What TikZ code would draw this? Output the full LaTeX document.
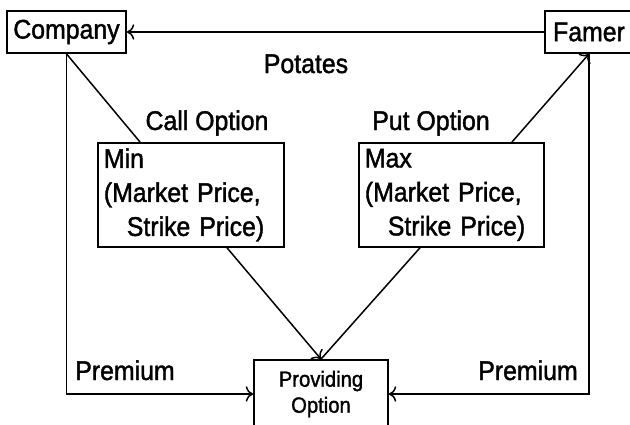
\documentclass[tikz,border=0pt]{standalone}
\usepackage{fontspec}
\setmainfont[FakeStretch=0.92,FakeBold=1.5]{Liberation Sans}
\usepackage{tikz}
\usetikzlibrary{arrows,arrows.meta}
\usetikzlibrary{positioning}

\begin{document}
\begin{tikzpicture}[x=1pt,y=-1pt,>={To[scale=1.5]},
		every node/.style={font=\fontsize{27}{34}\selectfont},
		box/.style={draw, line width=1.8pt, inner sep=0pt},
		conn/.style={line width=1.5pt},
		lab/.style={anchor=base}]
	
	\path[use as bounding box] (0,0) rectangle (630,424);
	\clip (0,0) rectangle (630,424);
	
	
	\node (company) at (66.5,32)[box, minimum width=119pt, minimum height=42pt] {Company};
	\node (famer) at (589,32)[box, minimum width=88pt, minimum height=42pt] {Famer};
	
	
	\node (minbox) at (97,142)[box, anchor=north west, minimum width=186pt, minimum height=104pt,
		inner xsep=6pt, text width=174pt, align=left] {Min\\(Market Price,\\\hspace*{0.85em}Strike Price)};
	\node (maxbox) at (358,142)[box, anchor=north west, minimum width=185pt, minimum height=104pt,
		inner xsep=6pt, text width=173pt, align=left] {Max\\(Market Price,\\\hspace*{0.85em}Strike Price)};
	
	
	\node (provide) at (321,394)[box, minimum width=134pt, minimum height=68pt, align=center,
		font=\fontsize{22}{26}\selectfont] {Providing\\Option};
	
	
	\node (potates) at (306,73)[lab] {Potates};
	\node (calllab) at (207,130)[lab] {Call Option};
	\node (putlab) at (431,130)[lab] {Put Option};
	\node (premleft) at (125,380)[lab] {Premium};
	\node (premright) at (528,380)[lab] {Premium};
	
	
	\draw[conn,->] (famer) -- (company);
	\draw[conn] (company.south) -- ([xshift=43pt]minbox.north west);
	\draw[conn,->] ([xshift=154pt]maxbox.north west) -- (famer.south);
	\draw[conn,->] ([xshift=130pt]minbox.south west) -- (provide.north);
	\draw[conn] ([xshift=62pt]maxbox.south west) -- (provide.north);
	\draw[conn,->] (company.south) |- (provide.west);
	\draw[conn,->] (famer.south) |- (provide.east);
	
\end{tikzpicture}
\end{document}
